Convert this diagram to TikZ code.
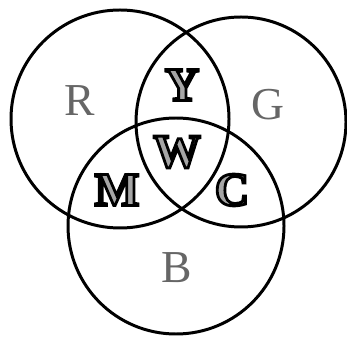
\documentclass[tikz,border=0pt]{standalone}
\usepackage{fontspec}
\setmainfont{Liberation Serif}
\usepackage{xcolor}
\usepackage{tikz}
\usetikzlibrary{positioning}

% outlined letter: grey fill, black stroke
\newcommand{\rimmed}[1]{\textcolor{black!35}{\special{pdf:literal direct 0 G 2 Tr 1.6 w}#1\special{pdf:literal direct 0 Tr}}}

\begin{document}
\begin{tikzpicture}[
    x=0.02cm, y=-0.02cm,
    ring/.style={draw, line width=1.7pt},
    primary/.style={text=black!60, font=\fontsize{26}{30}\selectfont},
    mixed/.style={font=\fontsize{27}{31}\selectfont\bfseries}
]
\useasboundingbox (0,0) rectangle (347,340);

\coordinate (rc) at (120,119);
\coordinate (gc) at (241,122);
\coordinate (bc) at (176,226);

\draw[ring] (rc) circle[radius=109];
\draw[ring] (gc) circle[radius=105];
\draw[ring] (bc) circle[radius=108];

\node[primary] (red) at (80,101) {R};
\node[primary] (green) at (268,105) {G};
\node[primary] (blue) at (177,268) {B};

\node[mixed] (yellow) at (182,85) {\rimmed{Y}};
\node[mixed] (white) at (177,152) {\rimmed{W}};
\node[mixed] (magenta) at (117,190) {\rimmed{M}};
\node[mixed] (cyan) at (232,190) {\rimmed{C}};

\end{tikzpicture}
\end{document}
